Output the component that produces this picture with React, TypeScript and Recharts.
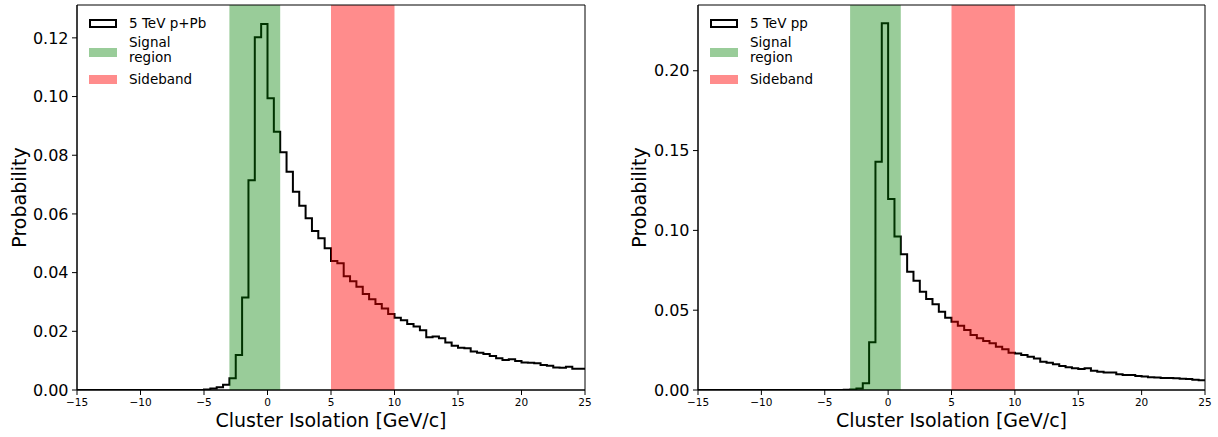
import {
  ComposedChart,
  Line,
  XAxis,
  YAxis,
  ReferenceArea,
} from 'recharts';

// bin left edges, 0.5 GeV/c wide, from -5 to 24.5 (below -5 everything is empty)
const BIN_START = -5;
const BIN_WIDTH = 0.5;
const X_TICKS = [-15, -10, -5, 0, 5, 10, 15, 20, 25];

const PPB_VALUES = [
  0.0002, 0.0005, 0.0009, 0.0018, 0.004, 0.0119, 0.0315, 0.0715, 0.1202, 0.1247,
  0.0994, 0.088, 0.081, 0.0744, 0.0676, 0.0628, 0.0585, 0.0542, 0.0517, 0.0483,
  0.044, 0.0432, 0.0388, 0.0371, 0.0352, 0.0327, 0.0309, 0.0293, 0.0278, 0.0259,
  0.0246, 0.0238, 0.0225, 0.0216, 0.0204, 0.018, 0.0182, 0.0176, 0.0162, 0.0151,
  0.0144, 0.0142, 0.0131, 0.0127, 0.0123, 0.0116, 0.0108, 0.0102, 0.0105, 0.0099,
  0.0094, 0.0093, 0.0091, 0.0085, 0.0083, 0.0077, 0.0076, 0.0079, 0.0072, 0.0072,
];

const PP_VALUES = [
  0, 0, 0, 0.0002, 0.0003, 0.001, 0.0042, 0.0299, 0.143, 0.2298,
  0.1197, 0.0961, 0.085, 0.0741, 0.0685, 0.0616, 0.057, 0.0537, 0.0491, 0.0453,
  0.0428, 0.0403, 0.0376, 0.0345, 0.0324, 0.0307, 0.0293, 0.0271, 0.0255, 0.0234,
  0.0228, 0.0219, 0.0209, 0.0198, 0.0177, 0.0171, 0.0161, 0.015, 0.0142, 0.0136,
  0.0132, 0.0136, 0.0121, 0.0115, 0.0109, 0.0109, 0.0098, 0.0094, 0.0094, 0.0088,
  0.0084, 0.008, 0.0079, 0.0075, 0.0075, 0.0073, 0.0071, 0.0069, 0.0065, 0.0061,
];

const PPB_YTICKS = [0, 0.02, 0.04, 0.06, 0.08, 0.1, 0.12];
const PP_YTICKS = [0, 0.05, 0.1, 0.15, 0.2];

const SIGNAL = [-3, 1];
const SIDEBAND = [5, 10];

const FONT = '"DejaVu Sans", sans-serif';
const GREEN = '#99cc99';
const RED = '#ff8c8c';

function toSteps(values: number[]) {
  const rows = [{ x: -15, v: 0 }];
  values.forEach((v, i) => rows.push({ x: BIN_START + i * BIN_WIDTH, v }));
  rows.push({ x: 25, v: values[values.length - 1] });
  return rows;
}

function fmtX(v: number) {
  return v < 0 ? '\u2212' + Math.abs(v) : String(v);
}

function LegendBox({ left, label }: { left: number; label: string }) {
  const text: React.CSSProperties = {
    position: 'absolute',
    left: left + 40,
    fontSize: 13.5,
    lineHeight: '15.5px',
    fontFamily: FONT,
    color: '#000',
    whiteSpace: 'nowrap',
  };
  const patch: React.CSSProperties = {
    position: 'absolute',
    left,
    width: 28,
    height: 9.5,
    boxSizing: 'border-box',
  };
  return (
    <>
      <div style={{ ...patch, top: 18.5, border: '2px solid #000', background: '#fff' }} />
      <div style={{ ...text, top: 15.8 }}>{label}</div>
      <div style={{ ...patch, top: 47.5, background: GREEN }} />
      <div style={{ ...text, top: 34.8 }}>
        Signal
        <br />
        region
      </div>
      <div style={{ ...patch, top: 74.5, background: RED }} />
      <div style={{ ...text, top: 71.5 }}>Sideband</div>
    </>
  );
}

function Panel({
  values,
  yMax,
  yTicks,
  axisWidth,
  rightMargin,
  labelDx,
}: {
  values: number[];
  yMax: number;
  yTicks: number[];
  axisWidth: number;
  rightMargin: number;
  labelDx: number;
}) {
  return (
    <ComposedChart
      width={609}
      height={437}
      data={toSteps(values)}
      margin={{ top: 5, right: rightMargin, bottom: 0, left: 0 }}
    >
      <XAxis
        dataKey="x"
        type="number"
        domain={[-15, 25]}
        ticks={X_TICKS}
        tickFormatter={fmtX}
        allowDataOverflow
        height={47}
        tickSize={5}
        tickMargin={4}
        tick={{ fontSize: 10.5, fill: '#000', fontFamily: FONT }}
        axisLine={{ stroke: '#000' }}
        tickLine={{ stroke: '#000' }}
        label={{
          value: 'Cluster Isolation [GeV/c]',
          position: 'insideBottom',
          offset: 10,
          style: { fontSize: 19, fill: '#000', fontFamily: FONT },
        }}
      />
      <YAxis
        type="number"
        domain={[0, yMax]}
        ticks={yTicks}
        allowDataOverflow
        width={axisWidth}
        tickSize={5}
        tickMargin={3.5}
        tickFormatter={(v: number) => v.toFixed(2)}
        tick={{ fontSize: 16, fill: '#000', fontFamily: FONT }}
        axisLine={{ stroke: '#000' }}
        tickLine={{ stroke: '#000' }}
        label={{
          value: 'Probability',
          angle: -90,
          position: 'center',
          dx: labelDx,
          style: { fontSize: 19, fill: '#000', fontFamily: FONT },
        }}
      />
      <Line
        dataKey="v"
        type="stepAfter"
        stroke="#000"
        strokeWidth={2}
        dot={false}
        activeDot={false}
        isAnimationActive={false}
      />
      {/* bands drawn over the histogram, like the alpha patches in the original */}
      <ReferenceArea x1={SIGNAL[0]} x2={SIGNAL[1]} y1={0} y2={yMax} fill="green" fillOpacity={0.4} stroke="none" zIndex={500} />
      <ReferenceArea x1={SIDEBAND[0]} x2={SIDEBAND[1]} y1={0} y2={yMax} fill="red" fillOpacity={0.45} stroke="none" zIndex={500} />
      <ReferenceArea x1={-15} x2={25} y1={0} y2={yMax} fill="none" stroke="#000" strokeWidth={1} zIndex={600} />
    </ComposedChart>
  );
}

export default function App() {
  return (
    <div style={{ position: 'absolute', left: 0, top: 0, width: 1218, height: 437, background: '#fff' }}>
      <div style={{ position: 'absolute', left: 0, top: 0 }}>
        <Panel values={PPB_VALUES} yMax={0.1312} yTicks={PPB_YTICKS} axisWidth={77} rightMargin={24} labelDx={-19.5} />
      </div>
      <div style={{ position: 'absolute', left: 609, top: 0 }}>
        <Panel values={PP_VALUES} yMax={0.2412} yTicks={PP_YTICKS} axisWidth={89} rightMargin={13} labelDx={-14.5} />
      </div>
      <LegendBox left={89} label="5 TeV p+Pb" />
      <LegendBox left={710} label="5 TeV pp" />
    </div>
  );
}
